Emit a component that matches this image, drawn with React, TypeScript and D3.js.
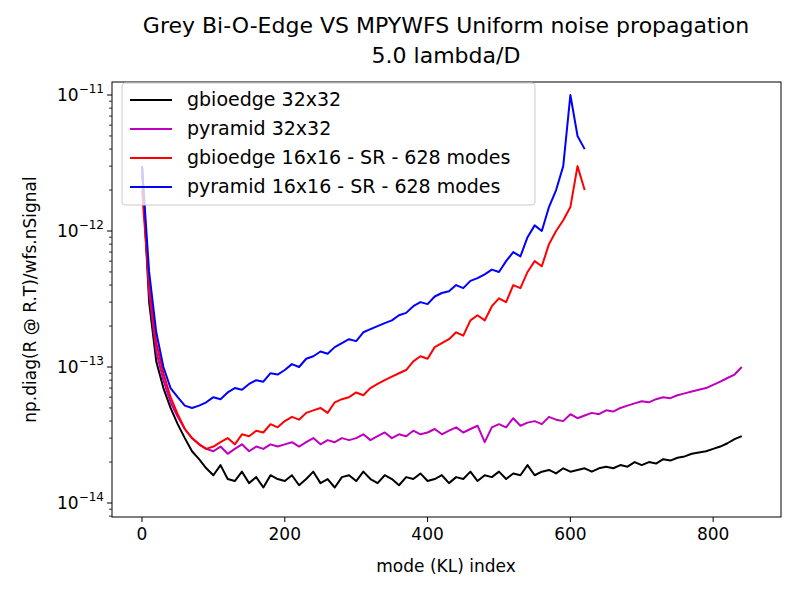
import React, { useEffect, useRef } from 'react';
import * as d3 from 'd3';

// values in units of 1e-14, sampled every 10 modes
const STEP = 10;
const gbio32 = [300, 30, 11, 7, 5, 3.8, 3, 2.4, 2.1, 1.8, 1.6, 1.9, 1.5, 1.45, 1.7, 1.4, 1.55, 1.3, 1.6, 1.5,
  1.45, 1.6, 1.35, 1.5, 1.7, 1.4, 1.5, 1.3, 1.55, 1.6, 1.45, 1.7, 1.5, 1.4, 1.6, 1.5, 1.35, 1.55, 1.5, 1.65,
  1.45, 1.5, 1.6, 1.4, 1.55, 1.5, 1.7, 1.45, 1.6, 1.55, 1.7, 1.5, 1.65, 1.6, 1.9, 1.6, 1.7, 1.75, 1.65, 1.8,
  1.7, 1.75, 1.8, 1.7, 1.8, 1.85, 1.8, 1.9, 1.85, 2.0, 1.9, 2.0, 1.95, 2.1, 2.05, 2.15, 2.2, 2.3, 2.35, 2.4,
  2.5, 2.6, 2.75, 2.95, 3.1];
const pyr32 = [300, 35, 13, 8, 5.5, 4.3, 3.5, 3, 2.7, 2.5, 2.4, 2.6, 2.3, 2.5, 2.7, 2.4, 2.6, 2.5, 2.7, 2.6,
  2.7, 2.8, 2.6, 2.8, 3.0, 2.7, 2.9, 2.8, 3.0, 2.9, 3.0, 3.2, 2.9, 3.1, 3.3, 3.0, 3.2, 3.1, 3.4, 3.2,
  3.3, 3.5, 3.2, 3.4, 3.6, 3.3, 3.5, 3.7, 2.8, 3.6, 3.8, 3.6, 4.2, 3.7, 3.9, 4.0, 3.8, 4.3, 4.1, 4.0,
  4.5, 4.2, 4.4, 4.6, 4.5, 4.8, 4.7, 5.0, 5.2, 5.4, 5.6, 5.5, 5.8, 6.0, 5.9, 6.2, 6.4, 6.6, 6.8, 7.0,
  7.4, 7.8, 8.3, 8.8, 10];
const gbio16 = [200, 40, 15, 9, 6, 4.5, 3.5, 3.0, 2.7, 2.5, 2.6, 2.8, 3.0, 2.7, 3.2, 3.1, 3.4, 3.3, 3.8, 3.6,
  4.0, 4.3, 4.1, 4.6, 4.8, 5.0, 4.6, 5.5, 5.8, 6.0, 6.5, 6.2, 7.0, 7.5, 8.0, 8.5, 9.0, 9.5, 11, 12,
  11.5, 14, 15, 16, 18, 17, 22, 24, 22, 28, 32, 30, 40, 38, 50, 60, 55, 80, 100, 120, 150, 300, 200];
const pyr16 = [300, 50, 18, 10, 7, 6, 5.2, 5.0, 5.2, 5.5, 6, 5.8, 6.5, 7, 6.8, 7.5, 8, 7.8, 9, 8.8,
  9.5, 10.5, 10, 11.5, 12, 13, 12.5, 14, 15, 16, 15.5, 18, 19, 20, 21, 22, 24, 25, 28, 30,
  29, 33, 35, 36, 40, 38, 43, 45, 48, 52, 50, 60, 70, 65, 90, 110, 100, 150, 200, 300, 1000, 500, 400];

const series = [
  { name: 'gbioedge 32x32', color: '#000000', values: gbio32 },
  { name: 'pyramid 32x32', color: '#bf00bf', values: pyr32 },
  { name: 'gbioedge 16x16 - SR - 628 modes', color: '#ff0000', values: gbio16 },
  { name: 'pyramid 16x16 - SR - 628 modes', color: '#0000ff', values: pyr16 },
];
const xTicks = [0, 200, 400, 600, 800];
const yExps = [-14, -13, -12, -11];

export default function App() {
  const ref = useRef<SVGSVGElement>(null);
  useEffect(() => {
    const svg = d3.select(ref.current).html('');
    const L = 112, R = 781, T = 82, B = 517;
    const x = d3.scaleLinear().domain([-42, 895]).range([L, R]);
    const y = d3.scaleLog().domain([10 ** (-14 - 14 / 136), 10 ** (-11 + 13 / 136)]).range([B, T]);
    const font = 'DejaVu Sans, sans-serif';

    const line = d3.line<number>().x((_, i) => x(i * STEP)).y(d => y(d * 1e-14));
    series.forEach(s => {
      svg.append('path').attr('d', line(s.values)).attr('fill', 'none')
        .attr('stroke', s.color).attr('stroke-width', 2).attr('stroke-linejoin', 'round');
    });

    svg.append('rect').attr('x', L).attr('y', T).attr('width', R - L).attr('height', B - T)
      .attr('fill', 'none').attr('stroke', '#000').attr('stroke-width', 1);

    xTicks.forEach(t => {
      svg.append('line').attr('x1', x(t)).attr('x2', x(t)).attr('y1', B).attr('y2', B + 5).attr('stroke', '#000');
      svg.append('text').attr('x', x(t)).attr('y', B + 23).attr('text-anchor', 'middle')
        .attr('font-family', font).attr('font-size', 17).text(t);
    });
    yExps.forEach(e => {
      const yy = y(10 ** e);
      svg.append('line').attr('x1', L - 5).attr('x2', L).attr('y1', yy).attr('y2', yy).attr('stroke', '#000');
      const tx = svg.append('text').attr('x', L - 8).attr('y', yy + 6).attr('text-anchor', 'end')
        .attr('font-family', font).attr('font-size', 17);
      tx.append('tspan').text('10');
      tx.append('tspan').attr('dy', -8).attr('font-size', 12).text(`\u2212${-e}`);
    });
    for (let e = -15; e <= -11; e++) {
      for (let m = 2; m <= 9; m++) {
        const v = m * 10 ** e;
        const [lo, hi] = y.domain();
        if (v < lo || v > hi) continue;
        svg.append('line').attr('x1', L - 3).attr('x2', L).attr('y1', y(v)).attr('y2', y(v)).attr('stroke', '#000').attr('stroke-width', 0.8);
      }
    }

    svg.append('text').attr('x', 446).attr('y', 572).attr('text-anchor', 'middle')
      .attr('font-family', font).attr('font-size', 17).text('mode (KL) index');
    svg.append('text').attr('transform', `translate(36,${(T + B) / 2}) rotate(-90)`).attr('text-anchor', 'middle')
      .attr('font-family', font).attr('font-size', 17).text('np.diag(R @ R.T)/wfs.nSignal');
    svg.append('text').attr('x', 446).attr('y', 33).attr('text-anchor', 'middle')
      .attr('font-family', font).attr('font-size', 22).text('Grey Bi-O-Edge VS MPYWFS Uniform noise propagation');
    svg.append('text').attr('x', 446).attr('y', 63).attr('text-anchor', 'middle')
      .attr('font-family', font).attr('font-size', 22).text('5.0 lambda/D');

    const lg = svg.append('g');
    lg.append('rect').attr('x', 122).attr('y', 83).attr('width', 413).attr('height', 122).attr('rx', 3)
      .attr('fill', 'rgba(255,255,255,0.8)').attr('stroke', '#ccc');
    series.forEach((s, i) => {
      const yy = 100 + i * 29;
      lg.append('line').attr('x1', 130).attr('x2', 172).attr('y1', yy).attr('y2', yy)
        .attr('stroke', s.color).attr('stroke-width', 2);
      lg.append('text').attr('x', 187).attr('y', yy + 6).attr('font-family', font).attr('font-size', 19).text(s.name);
    });
  }, []);
  return (
    <div style={{ position: 'absolute', left: 0, top: 0 }}>
      <svg ref={ref} width={795} height={591} style={{ display: 'block', background: '#fff' }} />
    </div>
  );
}
